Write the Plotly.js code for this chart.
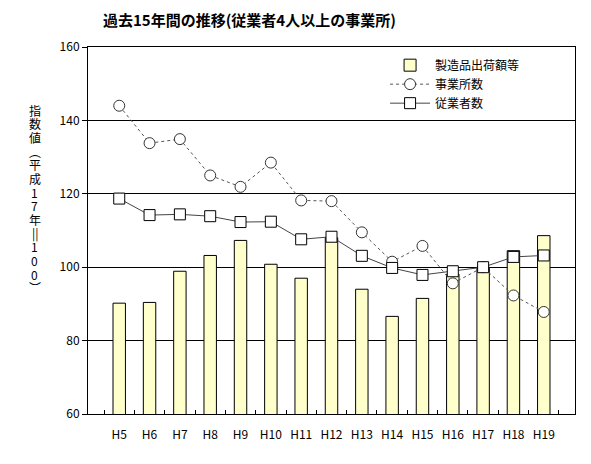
<!DOCTYPE html>
<html><head><meta charset="utf-8">
<script src="https://cdn.plot.ly/plotly-3.0.1.min.js"></script>
<style>body{margin:0;background:#fff}#chart{width:591px;height:464px}</style>
</head><body><div id="chart"></div>
<script>
const categories = ["H5","H6","H7","H8","H9","H10","H11","H12","H13","H14","H15","H16","H17","H18","H19"];
const shipments = [90.2,90.4,98.9,103.2,107.3,100.8,97.0,108.0,94.0,86.6,91.5,98.1,100.0,104.5,108.6];
const establishments = [144.0,133.8,134.9,125.0,121.9,128.5,118.2,118.0,109.5,101.5,105.8,95.6,100.0,92.3,87.8];
const employees = [118.7,114.2,114.4,113.9,112.3,112.4,107.6,108.3,103.1,99.8,97.9,98.9,100.0,102.8,103.2];
const seriesNames = ["製造品出荷額等","事業所数","従業者数"];
const yTicks = [60,80,100,120,140,160];
const titleText = "過去15年間の推移(従業者4人以上の事業所)";
const yTitleChars = ["指","数","値","︵","平","成","1","7","年","||","1","0","0","︶"];

const F = "'Noto Sans CJK JP', 'Liberation Sans', sans-serif";
const traces = [
  {type:"bar", x:categories, y:shipments, name:seriesNames[0], width:0.41,
   marker:{color:"#FFFFCC", line:{color:"#000", width:1}}},
  {type:"scatter", mode:"lines+markers", x:categories, y:establishments, name:seriesNames[1],
   line:{color:"#555", width:1, dash:"dot"},
   marker:{symbol:"circle", size:11, color:"#fff", line:{color:"#333", width:1}}},
  {type:"scatter", mode:"lines+markers", x:categories, y:employees, name:seriesNames[2],
   line:{color:"#444", width:1},
   marker:{symbol:"square", size:11, color:"#fff", line:{color:"#000", width:1}}}
];
// vertical y-axis title: one annotation per character, stacked top to bottom
const yTitleTop = 0.828, yTitleStep = 13.7 / 367.5;
const annotations = yTitleChars.map((c, i) => ({
  text:c, xref:"paper", yref:"paper", x:-0.109, y:yTitleTop - i * yTitleStep,
  xanchor:"center", yanchor:"middle", showarrow:false,
  font:{family:F, size:12, color:"#000"}
}));
const layout = {
  width:591, height:464,
  margin:{l:88, r:16, t:47, b:50},
  paper_bgcolor:"#fff", plot_bgcolor:"#fff",
  font:{family:F, size:12, color:"#000"},
  title:{text:titleText, x:0.422, xanchor:"center", y:0.955, yanchor:"middle",
         font:{family:F, size:15, color:"#000", weight:"bold"}},
  showlegend:true,
  legend:{x:0.61, y:0.99, xanchor:"left", yanchor:"top", bgcolor:"rgba(255,255,255,0)",
          font:{family:F, size:12}, tracegroupgap:0, itemwidth:40},
  xaxis:{type:"category", showline:true, mirror:true, linecolor:"#000", linewidth:1,
         ticks:"inside", tickson:"boundaries", ticklen:4, tickcolor:"#000", tickangle:0,
         showgrid:false, tickfont:{family:F, size:12}, ticklabelstandoff:10},
  yaxis:{range:[60,160], tickvals:yTicks, showline:true, mirror:true, linecolor:"#000", linewidth:1,
         ticks:"outside", ticklen:5, tickcolor:"#000", showgrid:true, gridcolor:"#000", gridwidth:1,
         zeroline:false, tickfont:{family:F, size:12}},
  annotations:annotations
};
Plotly.newPlot("chart", traces, layout, {displayModeBar:false, staticPlot:true});
</script></body></html>
